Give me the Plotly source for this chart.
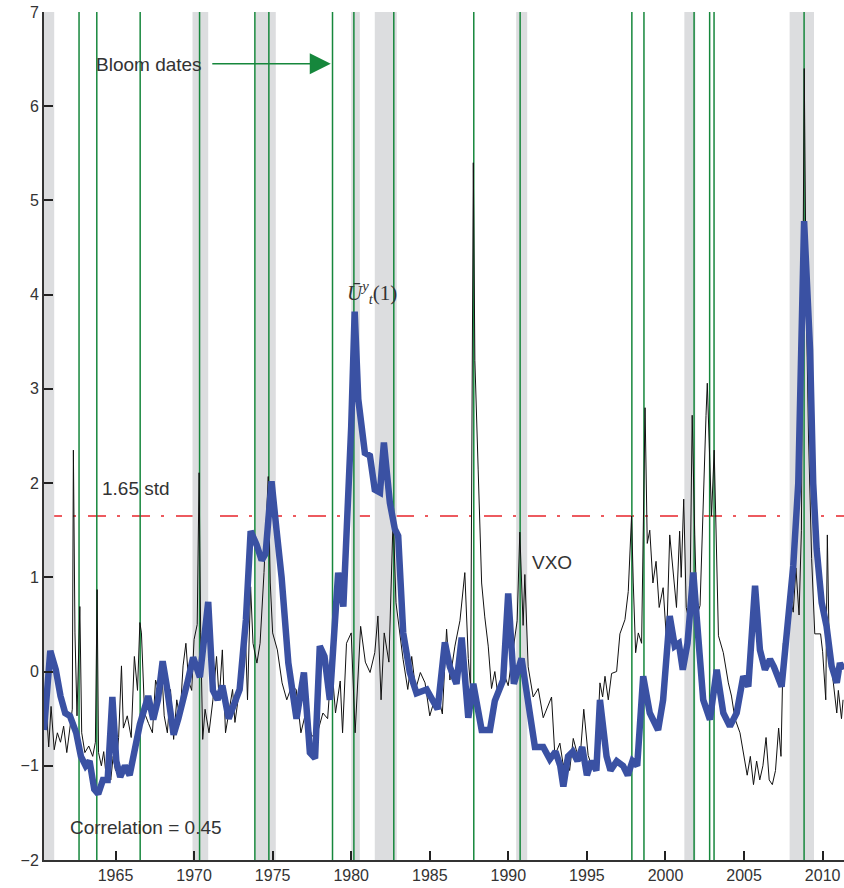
import plotly.graph_objects as go

# ---------------- data ----------------
vxo_dates = [1960.45, 1960.6, 1960.75, 1960.9, 1961.1, 1961.3, 1961.5, 1961.7, 1961.9, 1962.1,
             1962.25, 1962.32, 1962.42, 1962.55, 1962.73, 1962.85, 1963.05, 1963.3, 1963.55, 1963.72,
             1963.83, 1963.92, 1964.1, 1964.25, 1964.4, 1964.55, 1964.7, 1964.85, 1965.0, 1965.2,
             1965.38, 1965.5, 1965.75, 1966.0, 1966.2, 1966.4, 1966.55, 1966.65, 1966.85, 1967.1,
             1967.35, 1967.55, 1967.75, 1967.93, 1968.1, 1968.3, 1968.5, 1968.7, 1968.9, 1969.1,
             1969.3, 1969.48, 1969.65, 1969.85, 1970.0, 1970.2, 1970.32, 1970.42, 1970.55, 1970.7,
             1970.95, 1971.2, 1971.43, 1971.6, 1971.8, 1972.0, 1972.2, 1972.45, 1972.6, 1972.8,
             1973.0, 1973.23, 1973.4, 1973.6, 1973.75, 1974.0, 1974.2, 1974.45, 1974.72, 1974.85,
             1975.0, 1975.3, 1975.6, 1975.9, 1976.2, 1976.5, 1976.8, 1977.1, 1977.5, 1977.9,
             1978.2, 1978.5, 1978.75, 1979.0, 1979.3, 1979.45, 1979.7, 1980.0, 1980.25, 1980.6,
             1980.9, 1981.2, 1981.5, 1981.7, 1981.9, 1982.1, 1982.4, 1982.67, 1982.85, 1983.1,
             1983.3, 1983.6, 1983.85, 1984.1, 1984.4, 1984.7, 1985.0, 1985.3, 1985.6, 1985.8,
             1986.07, 1986.28, 1986.6, 1986.92, 1987.23, 1987.45, 1987.6, 1987.77, 1987.87, 1988.08,
             1988.3, 1988.5, 1988.72, 1988.93, 1989.14, 1989.35, 1989.67, 1989.99, 1990.31, 1990.56,
             1990.73, 1990.94, 1991.05, 1991.26, 1991.58, 1991.9, 1992.22, 1992.43, 1992.75, 1992.96,
             1993.28, 1993.5, 1993.71, 1993.9, 1994.13, 1994.35, 1994.56, 1994.8, 1995.08, 1995.3,
             1995.61, 1995.83, 1996.0, 1996.15, 1996.36, 1996.57, 1996.89, 1997.1, 1997.42, 1997.63,
             1997.84, 1997.95, 1998.1, 1998.27, 1998.48, 1998.7, 1998.84, 1999.0, 1999.2, 1999.4,
             1999.6, 1999.85, 2000.07, 2000.27, 2000.5, 2000.7, 2000.9, 2001.0, 2001.16, 2001.32,
             2001.54, 2001.7, 2001.86, 2002.0, 2002.2, 2002.4, 2002.58, 2002.66, 2002.8, 2002.93,
             2003.1, 2003.22, 2003.37, 2003.68, 2004.0, 2004.2, 2004.42, 2004.74, 2004.95, 2005.2,
             2005.4, 2005.6, 2005.8, 2006.0, 2006.2, 2006.4, 2006.6, 2006.8, 2007.0, 2007.2,
             2007.35, 2007.5, 2007.7, 2007.92, 2008.13, 2008.3, 2008.5, 2008.65, 2008.83, 2008.95,
             2009.1, 2009.3, 2009.5, 2009.87, 2010.0, 2010.2, 2010.3, 2010.4, 2010.6, 2010.9,
             2011.0, 2011.2, 2011.3]
vxo_values = [-0.55, -0.4, -0.8, -0.37, -0.83, -0.65, -0.75, -0.58, -0.86, -0.62,
              -0.4, 2.35, 0.41, -0.47, 0.69, -0.65, -0.86, -0.79, -0.9, -0.75,
              0.87, -0.86, -1.0, -0.85, -1.1, -0.95, -1.15, -0.9, -1.05, -0.7,
              0.06, -0.6, -0.47, -0.7, 0.16, -0.2, 0.52, 0.41, -0.44, -0.55,
              -0.65, -0.09, -0.2, 0.06, -0.47, -0.65, -0.19, -0.72, -0.3, -0.5,
              0.06, 0.3, -0.1, -0.2, 0.34, 0.5, 2.11, 0.41, -0.72, -0.4,
              -0.65, -0.3, 0.16, -0.3, 0.23, -0.65, -0.45, -0.19, -0.54, -0.3,
              -0.12, 0.59, -0.3, 0.9, 0.3, 0.09, 0.3, 1.05, 2.07, 0.94,
              0.41, 0.23, -0.12, -0.3, -0.16, -0.19, -0.65, -0.44, -0.69, -0.62,
              -0.44, -0.5, 0.09, -0.44, -0.1, -0.65, 0.3, 0.41, -0.65, 0.48,
              0.1, -0.01, 0.2, 0.59, -0.3, 0.41, 0.1, 1.65, 0.73, 0.41,
              0.13, -0.19, 0.16, -0.19, -0.01, -0.12, -0.47, -0.3, -0.3, -0.45,
              0.45, -0.09, 0.27, 0.54, 1.05, 0.14, -0.18, 5.4, 3.3, 2.14,
              0.94, 0.58, 0.27, -0.18, 0.0, -0.27, 0.0, -0.15, 0.27, 0.54,
              1.48, 0.49, 1.03, 0.05, -0.27, -0.18, -0.49, -0.4, -0.27, -0.89,
              -0.76, -1.0, -0.89, -1.05, -0.71, -0.85, -0.93, -0.4, -0.89, -1.0,
              -0.89, -0.12, -0.27, -0.05, -0.3, -0.02, 0.0, 0.4, 0.55, 0.85,
              1.65, 0.94, 0.2, 0.41, 0.3, 2.8, 1.36, 1.5, 0.94, 1.17,
              0.68, 0.89, 0.32, 1.45, 1.03, 0.68, 1.49, 1.0, 1.83, 0.68,
              0.5, 2.72, 1.45, 0.6, 0.7, 1.9, 2.72, 3.06, 2.35, 1.65,
              2.35, 1.57, 0.38, 0.2, -0.12, -0.26, -0.5, -0.65, -0.85, -1.1,
              -0.9, -1.2, -0.95, -1.15, -1.0, -0.7, -1.15, -1.2, -1.05, -0.6,
              -0.9, 0.3, 0.2, 0.8, 0.63, 1.1, 0.6, 1.5, 6.4, 4.0,
              2.5, 1.2, 0.4, 0.4, 0.21, -0.3, 1.45, 0.45, 0.0, -0.44,
              -0.2, -0.5, -0.3]

unc_dates = [1960.45, 1960.85, 1961.2, 1961.5, 1961.8, 1962.1, 1962.5, 1962.8, 1963.1, 1963.35,
             1963.65, 1963.9, 1964.2, 1964.5, 1964.8, 1965.05, 1965.3, 1965.6, 1965.9, 1966.2,
             1966.55, 1967.08, 1967.4, 1967.7, 1968.0, 1968.25, 1968.7, 1969.0, 1969.3, 1969.6,
             1969.94, 1970.2, 1970.37, 1970.9, 1971.2, 1971.5, 1971.8, 1972.2, 1972.5, 1972.9,
             1973.3, 1973.6, 1973.97, 1974.3, 1974.55, 1974.93, 1975.25, 1975.57, 1976.0, 1976.25,
             1976.52, 1976.99, 1977.37, 1977.7, 1978.0, 1978.3, 1978.64, 1979.17, 1979.5, 1980.0,
             1980.22, 1980.45, 1980.87, 1981.19, 1981.5, 1981.83, 1982.08, 1982.46, 1982.78, 1982.99,
             1983.31, 1983.73, 1984.16, 1984.8, 1985.2, 1985.5, 1985.96, 1986.28, 1986.7, 1987.03,
             1987.45, 1987.77, 1988.3, 1988.83, 1989.14, 1989.67, 1989.99, 1990.35, 1990.84, 1991.26,
             1991.69, 1992.22, 1992.64, 1993.0, 1993.3, 1993.5, 1993.8, 1994.1, 1994.4, 1994.7,
             1995.0, 1995.3, 1995.6, 1995.83, 1996.25, 1996.5, 1996.9, 1997.3, 1997.6, 1997.9,
             1998.2, 1998.58, 1999.0, 1999.53, 1999.85, 2000.27, 2000.59, 2000.85, 2001.1, 2001.4,
             2001.77, 2001.98, 2002.4, 2002.83, 2003.26, 2003.68, 2004.1, 2004.53, 2004.95, 2005.27,
             2005.7, 2006.01, 2006.33, 2006.65, 2006.9, 2007.39, 2007.71, 2008.13, 2008.45, 2008.82,
             2009.2, 2009.4, 2009.62, 2009.94, 2010.25, 2010.57, 2010.9, 2011.1, 2011.3]
unc_values = [-0.62, 0.22, 0.02, -0.26, -0.44, -0.47, -0.65, -0.9, -1.0, -0.95,
              -1.25, -1.3, -1.15, -1.15, -0.27, -0.95, -1.12, -1.0, -1.1, -0.85,
              -0.56, -0.26, -0.51, -0.3, 0.11, -0.14, -0.67, -0.5, -0.33, -0.1,
              0.15, 0.0, -0.06, 0.74, -0.2, -0.3, -0.15, -0.5, -0.35, -0.19,
              0.55, 1.49, 1.35, 1.18, 1.25, 2.02, 1.5, 1.0, 0.09, -0.2,
              -0.5, -0.01, -0.86, -0.92, 0.27, 0.16, -0.3, 1.05, 0.69, 2.6,
              3.82, 2.89, 2.32, 2.29, 1.93, 1.9, 2.43, 1.79, 1.51, 1.44,
              0.41, -0.01, -0.23, -0.19, -0.3, -0.4, 0.31, 0.05, -0.13, 0.36,
              -0.49, -0.13, -0.62, -0.62, -0.31, -0.09, 0.83, -0.13, 0.14, -0.36,
              -0.8, -0.8, -0.93, -0.85, -1.0, -1.22, -0.9, -0.85, -0.95, -0.8,
              -1.1, -0.95, -1.05, -0.3, -0.9, -1.05, -0.95, -1.0, -1.1, -0.95,
              -1.0, -0.05, -0.44, -0.62, -0.3, 0.59, 0.27, 0.3, 0.02, 0.3,
              1.05, 0.59, -0.3, -0.51, 0.02, -0.44, -0.58, -0.44, -0.05, -0.16,
              0.91, 0.23, 0.02, 0.13, 0.05, -0.16, 0.41, 1.12, 2.0, 4.78,
              3.42, 2.0, 1.3, 0.73, 0.48, 0.06, -0.12, 0.09, 0.02]

recession_starts = [1960.3, 1969.9, 1973.9, 1980.0, 1981.5, 1990.5, 2001.2, 2007.9]
recession_ends = [1961.1, 1970.9, 1975.2, 1980.55, 1982.9, 1991.2, 2001.9, 2009.45]

bloom_dates = [1962.68, 1963.81, 1966.57, 1970.35, 1973.87, 1974.76, 1978.81, 1980.17,
               1982.71, 1987.8, 1990.75, 1997.86, 1998.63, 2001.82, 2002.81, 2003.09, 2008.82]

threshold = 1.65
x_ticks = [1965, 1970, 1975, 1980, 1985, 1990, 1995, 2000, 2005, 2010]
y_ticks = [-2, -1, 0, 1, 2, 3, 4, 5, 6, 7]
y_ticktext = ["\u22122", "\u22121", "0", "1", "2", "3", "4", "5", "6", "7"]

# ---------------- figure ----------------
FONT = "Liberation Sans, Arial, sans-serif"
TXT = "#333333"
GREEN = "#16873c"

fig = go.Figure()

fig.add_trace(go.Scatter(x=vxo_dates, y=vxo_values, mode="lines",
                         line=dict(color="#111111", width=1), showlegend=False,
                         hoverinfo="skip"))
fig.add_trace(go.Scatter(x=unc_dates, y=unc_values, mode="lines",
                         line=dict(color="#3a51a3", width=6.5), showlegend=False,
                         hoverinfo="skip"))

shapes = []
for s, e in zip(recession_starts, recession_ends):
    shapes.append(dict(type="rect", xref="x", yref="y", x0=s, x1=e, y0=-2, y1=7,
                       fillcolor="#dcdddf", line=dict(width=0), layer="below"))
for d in bloom_dates:
    shapes.append(dict(type="line", xref="x", yref="y", x0=d, x1=d, y0=-2, y1=7,
                       line=dict(color=GREEN, width=1.5), layer="below"))
shapes.append(dict(type="line", xref="paper", yref="y", x0=0, x1=1, y0=threshold, y1=threshold,
                   line=dict(color="#e8252b", width=1.5, dash="18px,11px,3px,12px"),
                   layer="below"))

annotations = [
    dict(x=1963.65, y=6.44, xref="x", yref="y", text="Bloom dates", showarrow=False,
         xanchor="left", yanchor="middle", font=dict(family=FONT, size=19, color=TXT)),
    dict(x=1978.7, y=6.45, xref="x", yref="y", ax=-120, ay=0, text="", showarrow=True,
         arrowhead=2, arrowsize=2.8, arrowwidth=1.5, arrowcolor=GREEN),
    dict(x=1964.0, y=1.94, xref="x", yref="y", text="1.65 std", showarrow=False,
         xanchor="left", yanchor="middle", font=dict(family=FONT, size=19, color=TXT)),
    dict(x=1991.4, y=1.16, xref="x", yref="y", text="VXO", showarrow=False,
         xanchor="left", yanchor="middle", font=dict(family=FONT, size=19, color=TXT)),
    dict(x=1961.95, y=-1.66, xref="x", yref="y", text="Correlation = 0.45", showarrow=False,
         xanchor="left", yanchor="middle", font=dict(family=FONT, size=19, color=TXT)),
    dict(x=1981.35, y=4.02, xref="x", yref="y",
         text="<i>\u016a</i><sup><i>y</i></sup><sub><i>t</i></sub>(1)", showarrow=False,
         xanchor="center", yanchor="middle",
         font=dict(family="Liberation Serif, DejaVu Serif, serif", size=21, color=TXT)),
]

fig.update_layout(
    width=844, height=888,
    margin=dict(l=44, r=0, t=12, b=28),
    paper_bgcolor="white", plot_bgcolor="white",
    shapes=shapes, annotations=annotations,
    font=dict(family=FONT, size=16, color=TXT),
    xaxis=dict(range=[1960.45, 2011.36], tickvals=x_ticks, ticks="inside", ticklen=9,
               tickwidth=1.5, tickcolor="#222222", showline=True, linecolor="#333333",
               linewidth=2, showgrid=False, zeroline=False,
               tickfont=dict(family=FONT, size=16, color=TXT)),
    yaxis=dict(range=[-2, 7], tickvals=y_ticks, ticktext=y_ticktext, ticks="inside",
               ticklen=9, tickwidth=1.5, tickcolor="#222222", showline=True,
               linecolor="#333333", linewidth=2, showgrid=False, zeroline=False,
               tickfont=dict(family=FONT, size=16, color=TXT)),
)

fig.write_html("out.html")
